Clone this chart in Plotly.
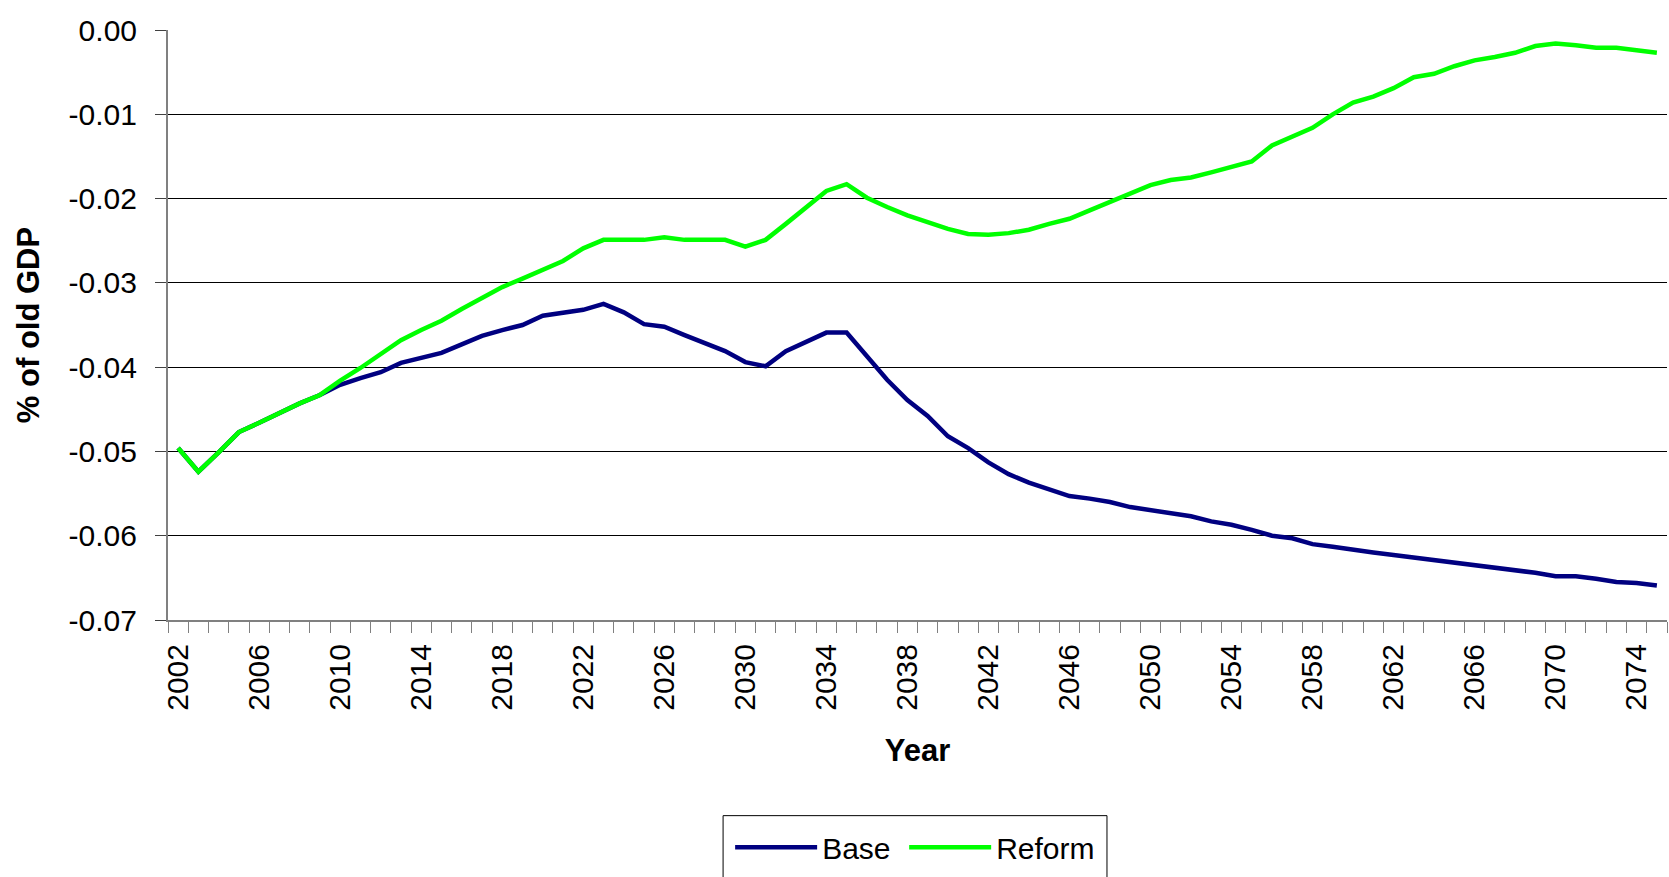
import plotly.graph_objects as go

years = list(range(2002, 2076))

base = [
    -0.0496, -0.0524, -0.0501, -0.0477, -0.0466, -0.0454, -0.0443, -0.0433,  # 2002-2009
    -0.0421, -0.0413, -0.0406, -0.0395, -0.0389, -0.0383, -0.0373, -0.0363,  # 2010-2017
    -0.0356, -0.0350, -0.0339, -0.0336, -0.0332, -0.0325, -0.0335, -0.0349,  # 2018-2025
    -0.0352, -0.0362, -0.0371, -0.0381, -0.0394, -0.0399, -0.0381, -0.0370,  # 2026-2033
    -0.0359, -0.0359, -0.0388, -0.0415, -0.0439, -0.0458, -0.0482, -0.0496,  # 2034-2041
    -0.0513, -0.0527, -0.0537, -0.0545, -0.0553, -0.0556, -0.0560, -0.0566,  # 2042-2049
    -0.0570, -0.0573, -0.0577, -0.0583, -0.0587, -0.0593, -0.0600, -0.0603,  # 2050-2057
    -0.0610, -0.0613, -0.0617, -0.0620, -0.0623, -0.0626, -0.0628, -0.0631,  # 2058-2065
    -0.0634, -0.0637, -0.0640, -0.0644, -0.0648, -0.0648, -0.0651, -0.0655,  # 2066-2073
    -0.0656, -0.0659,                                                        # 2074-2075
]

reform = [
    -0.0496, -0.0524, -0.0501, -0.0477, -0.0466, -0.0454, -0.0443, -0.0433,  # 2002-2009
    -0.0416, -0.0401, -0.0385, -0.0368, -0.0356, -0.0345, -0.0331, -0.0318,  # 2010-2017
    -0.0305, -0.0295, -0.0284, -0.0274, -0.0259, -0.0249, -0.0249, -0.0249,  # 2018-2025
    -0.0246, -0.0249, -0.0249, -0.0249, -0.0257, -0.0249, -0.0230, -0.0211,  # 2026-2033
    -0.0191, -0.0183, -0.0199, -0.0210, -0.0220, -0.0228, -0.0236, -0.0242,  # 2034-2041
    -0.0243, -0.0241, -0.0237, -0.0230, -0.0224, -0.0214, -0.0204, -0.0195,  # 2042-2049
    -0.0184, -0.0178, -0.0175, -0.0169, -0.0163, -0.0156, -0.0137, -0.0126,  # 2050-2057
    -0.0116, -0.0100, -0.0086, -0.0079, -0.0069, -0.0056, -0.0052, -0.0043,  # 2058-2065
    -0.0036, -0.0032, -0.0027, -0.0019, -0.0016, -0.0018, -0.0021, -0.0021,  # 2066-2073
    -0.0024, -0.0027,                                                        # 2074-2075
]

x_tick_labels = [str(y) for y in range(2002, 2076, 4)]
y_tick_vals = [0.0, -0.01, -0.02, -0.03, -0.04, -0.05, -0.06, -0.07]
y_tick_text = ["0.00", "-0.01", "-0.02", "-0.03", "-0.04", "-0.05", "-0.06", "-0.07"]

REG = "Liberation Sans, Arial, sans-serif"

fig = go.Figure()
fig.add_trace(go.Scatter(x=years, y=base, mode="lines", name="Base",
                         line=dict(color="#000080", width=4.5), legend="legend"))
fig.add_trace(go.Scatter(x=years, y=reform, mode="lines", name="Reform",
                         line=dict(color="#00FF00", width=4.5), legend="legend2"))

# legend frame (extends past the bottom edge, as in the original)
fig.add_shape(type="rect", xref="paper", yref="paper",
              x0=0.3703, x1=0.6264, y0=-0.3316, y1=-0.46,
              line=dict(color="#000000", width=1), fillcolor="rgba(0,0,0,0)",
              layer="above")

legend_common = dict(
    orientation="h", xanchor="left", yanchor="top", y=-0.3413,
    borderwidth=0, bgcolor="rgba(0,0,0,0)",
    font=dict(family=REG, size=30, color="black"),
    itemwidth=82, tracegroupgap=0,
)

fig.update_layout(
    width=1669, height=877,
    margin=dict(l=168, r=2, t=30, b=257),
    paper_bgcolor="white", plot_bgcolor="white",
    showlegend=True,
    legend=dict(x=0.375, **legend_common),
    legend2=dict(x=0.4911, **legend_common),
    xaxis=dict(
        range=[2001.5, 2075.5],
        tickmode="array",
        tickvals=list(range(2002, 2076, 4)),
        ticktext=x_tick_labels,
        tickangle=-90,
        ticks="outside", ticklen=0,
        tickfont=dict(family=REG, size=30, color="black"),
        ticklabelstandoff=10,
        showgrid=False, zeroline=False,
        showline=True, linecolor="#808080", linewidth=2,
        minor=dict(ticks="outside", ticklen=11, tickcolor="#808080",
                   tick0=2001.5, dtick=1, showgrid=False),
        title=dict(text="<b>Year</b>", font=dict(family=REG, size=31, color="black"),
                   standoff=30),
    ),
    yaxis=dict(
        range=[-0.07, 0.0],
        tickmode="array",
        tickvals=y_tick_vals,
        ticktext=y_tick_text,
        ticks="outside", ticklen=11, tickcolor="#404040",
        tickfont=dict(family=REG, size=30, color="black"),
        ticklabelstandoff=12,
        showgrid=True, gridcolor="#000000", gridwidth=1,
        zeroline=False,
        showline=True, linecolor="#808080", linewidth=2,
        title=dict(text="<b>% of old GDP</b>", font=dict(family=REG, size=31, color="black"),
                   standoff=20),
    ),
)

fig.write_html(
    "out.html",
    config={"displayModeBar": False},
    post_script="document.body.style.margin='0';document.body.style.overflow='hidden';",
)
